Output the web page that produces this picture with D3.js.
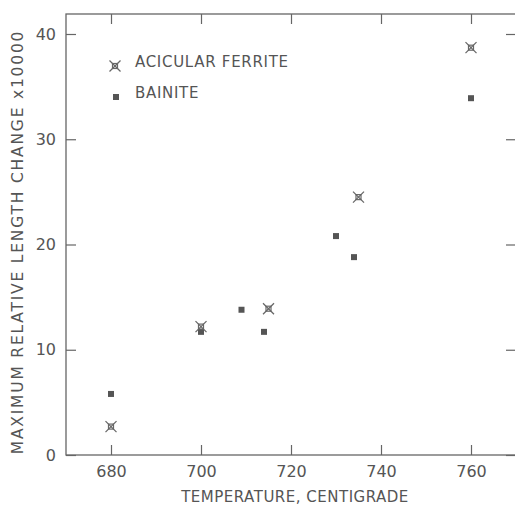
<!DOCTYPE html>
<html>
<head>
<meta charset="utf-8">
<script src="https://cdn.jsdelivr.net/npm/d3@7"></script>
<style>
  body { margin: 0; background: #fff; }
  text { font-family: "DejaVu Sans", sans-serif; fill: #555; }
</style>
</head>
<body>
<div id="chart"></div>
<script>
// temperatures (C) and relative length change x10000
const ferriteTemp = [680, 700, 715, 735, 760];
const ferriteVal = [2.7, 12.2, 13.9, 24.5, 38.7];
const bainiteTemp = [680, 700, 709, 714, 730, 734, 760];
const bainiteVal = [5.8, 11.7, 13.8, 11.7, 20.8, 18.8, 33.9];
const xTicks = [680, 700, 720, 740, 760];
const yTicks = [0, 10, 20, 30, 40];

const W = 515, H = 510;

const svg = d3.select("#chart").append("svg")
	.attr("width", W)
	.attr("height", H);

const x = d3.scaleLinear().domain([670, 770]).range([66, 516]);
const y = d3.scaleLinear().domain([0, 41.9]).range([455, 14]);

const stroke = "#666";

// frame
svg.append("rect")
	.attr("x", x(670)).attr("y", y(41.9))
	.attr("width", x(770) - x(670)).attr("height", y(0) - y(41.9))
	.attr("fill", "none").attr("stroke", stroke).attr("stroke-width", 1.3);

// inward ticks on all four sides
const tl = 10;
svg.append("g")
	.attr("transform", `translate(0, ${y(0)})`)
	.call(d3.axisBottom(x).tickValues(xTicks).tickSize(-tl).tickPadding(11).tickFormat(d3.format("d")))
	.call(g => g.select(".domain").remove());
svg.append("g")
	.attr("transform", `translate(0, ${y(41.9)})`)
	.call(d3.axisTop(x).tickValues(xTicks).tickSize(-tl).tickFormat(""))
	.call(g => g.select(".domain").remove());
svg.append("g")
	.attr("transform", `translate(${x(670)}, 0)`)
	.call(d3.axisLeft(y).tickValues(yTicks).tickSize(-tl).tickPadding(10))
	.call(g => g.select(".domain").remove());
svg.append("g")
	.attr("transform", `translate(${x(770)}, 0)`)
	.call(d3.axisRight(y).tickValues(yTicks).tickSize(-tl).tickFormat(""))
	.call(g => g.select(".domain").remove());

svg.selectAll(".tick line").attr("stroke", stroke).attr("stroke-width", 1.2);
svg.selectAll(".tick text")
	.attr("font-size", 16)
	.attr("fill", "#555")
	.style("font-family", "DejaVu Sans, sans-serif");

// axis titles
svg.append("text")
	.attr("x", 295)
	.attr("y", 502)
	.attr("text-anchor", "middle")
	.attr("font-size", 15)
	.attr("letter-spacing", 0.5)
	.text("TEMPERATURE, CENTIGRADE");

svg.append("text")
	.attr("transform", `translate(23, 242) rotate(-90)`)
	.attr("text-anchor", "middle")
	.attr("font-size", 15.5)
	.attr("letter-spacing", 1.8)
	.text("MAXIMUM RELATIVE LENGTH CHANGE x10000");

// markers
function crossMark(g, cx, cy) {
	const s = 5.5;
	g.append("line").attr("x1", cx - s).attr("y1", cy - s).attr("x2", cx + s).attr("y2", cy + s);
	g.append("line").attr("x1", cx - s).attr("y1", cy + s).attr("x2", cx + s).attr("y2", cy - s);
	g.append("rect").attr("x", cx - 2.5).attr("y", cy - 2.5).attr("width", 5).attr("height", 5)
		.attr("fill", "none");
}
function squareMark(g, cx, cy) {
	g.append("rect").attr("x", cx - 3).attr("y", cy - 3).attr("width", 6).attr("height", 6)
		.attr("fill", "#555").attr("stroke", "none");
}

const pts = svg.append("g").attr("stroke", "#666").attr("stroke-width", 1.2);
bainiteTemp.forEach((t, i) => squareMark(pts, x(t), y(bainiteVal[i])));
ferriteTemp.forEach((t, i) => crossMark(pts, x(t), y(ferriteVal[i])));

// legend
const legend = svg.append("g").attr("stroke", "#666").attr("stroke-width", 1.2);
crossMark(legend, 115, 66);
squareMark(legend, 116, 97);
svg.append("text").attr("x", 135).attr("y", 67).attr("font-size", 15).attr("letter-spacing", 0.7)
	.text("ACICULAR FERRITE");
svg.append("text").attr("x", 135).attr("y", 98).attr("font-size", 15).attr("letter-spacing", 0.7)
	.text("BAINITE");
</script>
</body>
</html>
